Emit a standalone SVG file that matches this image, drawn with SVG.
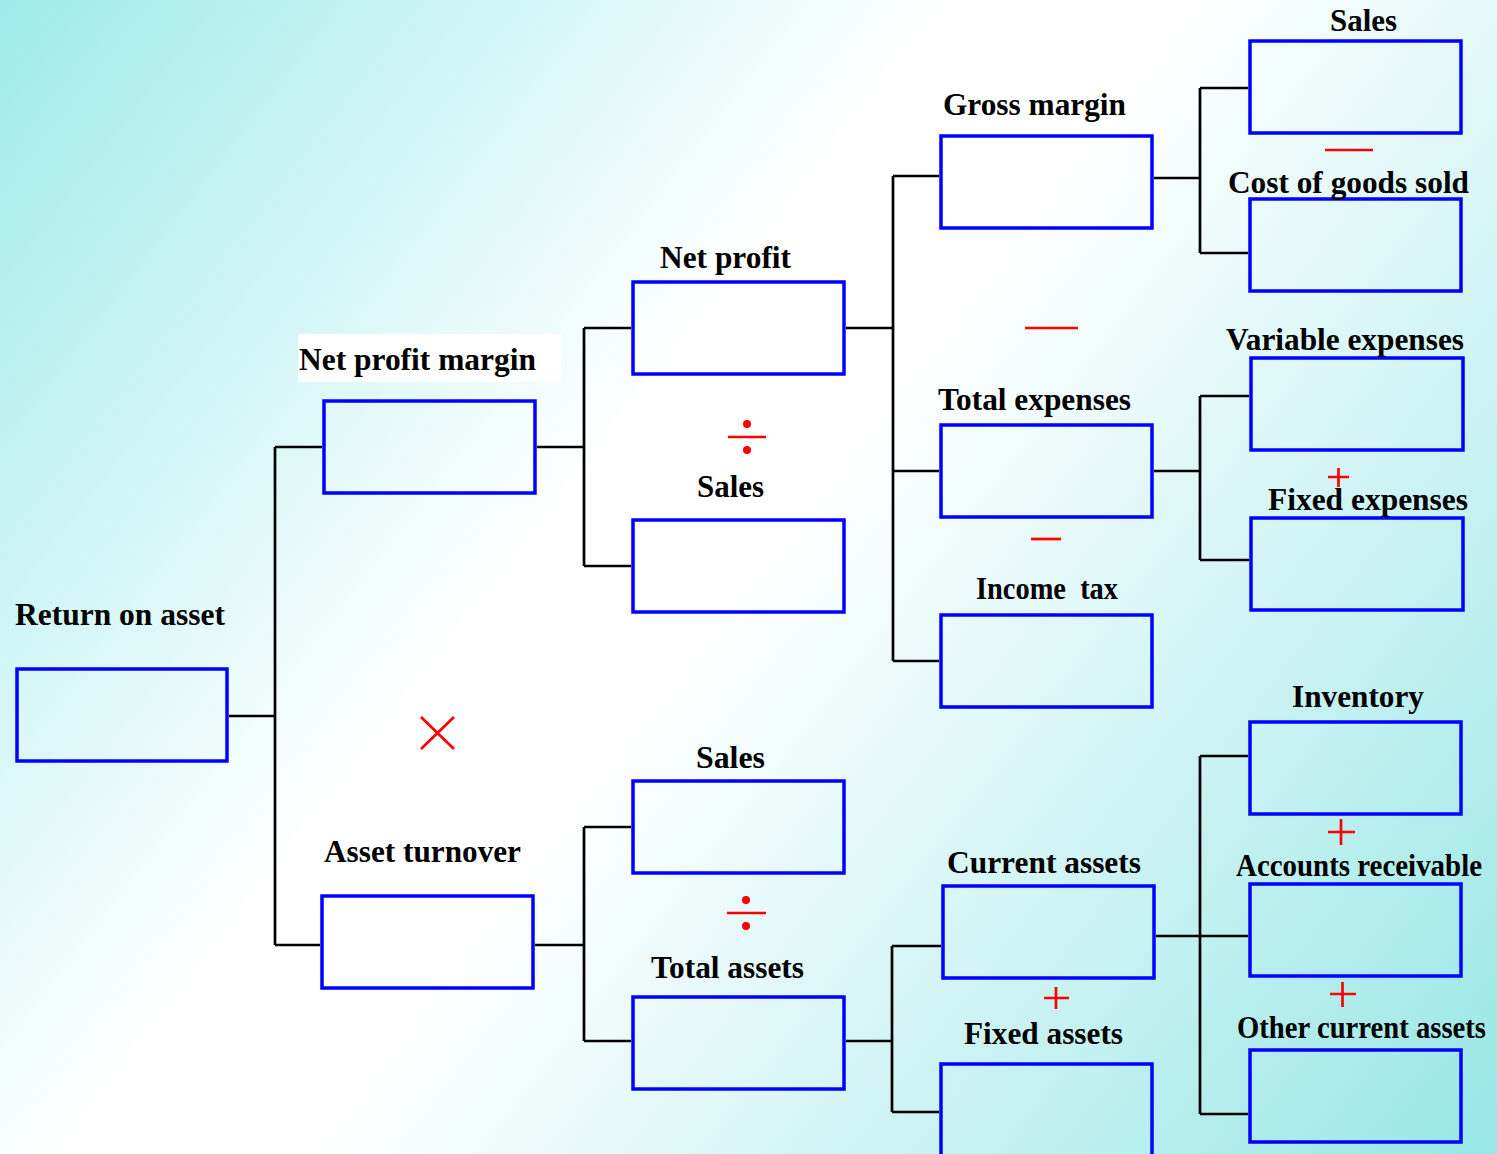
<svg xmlns="http://www.w3.org/2000/svg" width="1497" height="1154" viewBox="0 0 1497 1154">
<defs>
<linearGradient id="bg" gradientUnits="userSpaceOnUse" x1="0" y1="0" x2="1497" y2="1154">
<stop offset="0" stop-color="#9eeaea"/>
<stop offset="0.4" stop-color="#ffffff"/>
<stop offset="0.5" stop-color="#ffffff"/>
<stop offset="1" stop-color="#98e6e6"/>
</linearGradient>
</defs>
<style>
.box{fill:none;stroke:#0000ff;stroke-width:3.5}
.lbl{font-family:"Liberation Serif","Times New Roman",serif;font-weight:bold;font-size:31px;fill:#000}
.conn{fill:none;stroke:#000;stroke-width:2.7}
.op{fill:none;stroke:#ff0000;stroke-width:2.7}
.dot{fill:#ff0000}
</style>
<rect x="0" y="0" width="1497" height="1154" fill="url(#bg)"/>

<g id="connectors" class="conn">
<path d="M229 716H275M275 447V945M275 447H322M275 945H320"/>
<path d="M537 447H584M584 328V566M584 328H631M584 566H631"/>
<path d="M535 945H584M584 827V1041M584 827H631M584 1041H631"/>
<path d="M846 328H893M893 176V661M893 176H939M893 471H939M893 661H939"/>
<path d="M1154 178H1200M1200 88V253M1200 88H1248M1200 253H1248"/>
<path d="M1154 471H1200M1200 396V560M1200 396H1249M1200 560H1249"/>
<path d="M846 1041H892M892 946V1112M892 946H941M892 1112H939"/>
<path d="M1156 936H1248M1200 756V1114M1200 756H1248M1200 1114H1248"/>
</g>

<g id="operators">
<path class="op" d="M728 437H766"/>
<circle class="dot" cx="747" cy="424" r="4"/>
<circle class="dot" cx="747" cy="450" r="4"/>
<path class="op" d="M727 913H766"/>
<circle class="dot" cx="746" cy="900" r="4"/>
<circle class="dot" cx="746" cy="926" r="4"/>
<path class="op" d="M1025 328H1078"/>
<path class="op" d="M1325 150H1373"/>
<path class="op" d="M1031 539H1061"/>
<path class="op" d="M1328 477H1349M1338.5 468V487"/>
<path class="op" d="M1044 998H1069M1056 987V1009"/>
<path class="op" d="M1328 832H1355M1341 819V845"/>
<path class="op" d="M1330 994H1356M1342.5 982V1007"/>
<path class="op" d="M421 717L454 749M454 717L421 749"/>
</g>

<g id="return-on-asset">
<rect class="box" x="17" y="669" width="210" height="92"/>
<text class="lbl" x="15" y="625" textLength="210" lengthAdjust="spacingAndGlyphs">Return on asset</text>
</g>
<g id="net-profit-margin">
<rect x="298" y="334" width="263" height="48" fill="#ffffff"/>
<rect class="box" x="324" y="401" width="211" height="92"/>
<text class="lbl" x="299" y="370" textLength="237" lengthAdjust="spacingAndGlyphs">Net profit margin</text>
</g>
<g id="asset-turnover">
<rect class="box" x="322" y="896" width="211" height="92"/>
<text class="lbl" x="324" y="862" textLength="197" lengthAdjust="spacingAndGlyphs">Asset turnover</text>
</g>
<g id="net-profit">
<rect class="box" x="633" y="282" width="211" height="92"/>
<text class="lbl" x="660" y="268" textLength="131" lengthAdjust="spacingAndGlyphs">Net profit</text>
</g>
<g id="sales-1">
<rect class="box" x="633" y="520" width="211" height="92"/>
<text class="lbl" x="697" y="497" textLength="67" lengthAdjust="spacingAndGlyphs">Sales</text>
</g>
<g id="sales-2">
<rect class="box" x="633" y="781" width="211" height="92"/>
<text class="lbl" x="696" y="768" textLength="69" lengthAdjust="spacingAndGlyphs">Sales</text>
</g>
<g id="total-assets">
<rect class="box" x="633" y="997" width="211" height="92"/>
<text class="lbl" x="651" y="978" textLength="153" lengthAdjust="spacingAndGlyphs">Total assets</text>
</g>
<g id="gross-margin">
<rect class="box" x="941" y="136" width="211" height="92"/>
<text class="lbl" x="943" y="115" textLength="183" lengthAdjust="spacingAndGlyphs">Gross margin</text>
</g>
<g id="total-expenses">
<rect class="box" x="941" y="425" width="211" height="92"/>
<text class="lbl" x="938" y="410" textLength="193" lengthAdjust="spacingAndGlyphs">Total expenses</text>
</g>
<g id="income-tax">
<rect class="box" x="941" y="615" width="211" height="92"/>
<text class="lbl" x="976" y="599" textLength="142" lengthAdjust="spacingAndGlyphs" xml:space="preserve">Income  tax</text>
</g>
<g id="current-assets">
<rect class="box" x="943" y="886" width="211" height="92"/>
<text class="lbl" x="947" y="873" textLength="194" lengthAdjust="spacingAndGlyphs">Current assets</text>
</g>
<g id="fixed-assets">
<rect class="box" x="941" y="1064" width="211" height="92"/>
<text class="lbl" x="964" y="1044" textLength="159" lengthAdjust="spacingAndGlyphs">Fixed assets</text>
</g>
<g id="sales-3">
<rect class="box" x="1250" y="41" width="211" height="92"/>
<text class="lbl" x="1330" y="31" textLength="67" lengthAdjust="spacingAndGlyphs">Sales</text>
</g>
<g id="cost-of-goods-sold">
<rect class="box" x="1250" y="199" width="211" height="92"/>
<text class="lbl" x="1228" y="193" textLength="241" lengthAdjust="spacingAndGlyphs">Cost of goods sold</text>
</g>
<g id="variable-expenses">
<rect class="box" x="1251" y="358" width="212" height="92"/>
<text class="lbl" x="1226" y="350" textLength="238" lengthAdjust="spacingAndGlyphs">Variable expenses</text>
</g>
<g id="fixed-expenses">
<rect class="box" x="1251" y="518" width="212" height="92"/>
<text class="lbl" x="1268" y="510" textLength="200" lengthAdjust="spacingAndGlyphs">Fixed expenses</text>
</g>
<g id="inventory">
<rect class="box" x="1250" y="722" width="211" height="92"/>
<text class="lbl" x="1292" y="707" textLength="132" lengthAdjust="spacingAndGlyphs">Inventory</text>
</g>
<g id="accounts-receivable">
<rect class="box" x="1250" y="884" width="211" height="92"/>
<text class="lbl" x="1236" y="876" textLength="246" lengthAdjust="spacingAndGlyphs">Accounts receivable</text>
</g>
<g id="other-current-assets">
<rect class="box" x="1250" y="1050" width="211" height="92"/>
<text class="lbl" x="1237" y="1038" textLength="249" lengthAdjust="spacingAndGlyphs">Other current assets</text>
</g>
</svg>
